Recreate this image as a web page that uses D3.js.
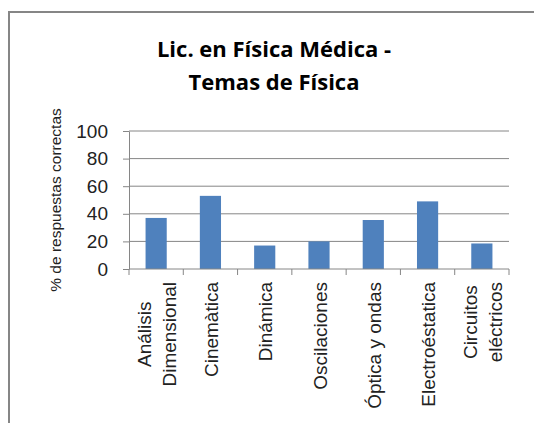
<!DOCTYPE html>
<html>
<head>
<meta charset="utf-8">
<script src="https://cdn.jsdelivr.net/npm/d3@7"></script>
<style>
  body { margin: 0; background: #fff; }
  svg { display: block; }
</style>
</head>
<body>
<script>
var temas = [
    ["Análisis", "Dimensional"],
    ["Cinemàtica"],
    ["Dinámica"],
    ["Oscilaciones"],
    ["Óptica y ondas"],
    ["Electroéstatica"],
    ["Circuitos", "eléctricos"]
];
var correctas = [37, 53, 17, 20, 35.5, 49, 18.5];
var yTicks = [0, 20, 40, 60, 80, 100];
var titulo = ["Lic. en Física Médica -", "Temas de Física"];
var yTitulo = "% de respuestas correctas";

var width = 534, height = 423;
var gris = "#868686";
var fuente = "'Liberation Sans', Arial, sans-serif";

var svg = d3.select("body").append("svg")
    .attr("width", width)
    .attr("height", height);

// marco del grafico (solo se ven arriba y a la izquierda)
svg.append("rect")
    .attr("x", 9).attr("y", 12)
    .attr("width", 540).attr("height", 430)
    .attr("fill", "none")
    .attr("stroke", gris)
    .attr("stroke-width", 2);

svg.append("g").selectAll("text")
    .data(titulo)
    .enter().append("text")
    .attr("x", 274)
    .attr("y", function (d, i) { return 57 + i * 33; })
    .attr("text-anchor", "middle")
    .style("font-family", "'Open Sans', Lato, sans-serif")
    .style("font-weight", "bold")
    .style("font-size", "22px")
    .text(function (d) { return d; });

var ids = d3.range(temas.length);
var x = d3.scaleBand()
    .domain(ids)
    .range([129, 509])
    .paddingInner(0.61)
    .paddingOuter(0.305);

var y = d3.scaleLinear()
    .domain([0, 100])
    .range([269, 131]);

// lineas de division
svg.append("g").selectAll("line")
    .data(yTicks.filter(function (d) { return d > 0; }))
    .enter().append("line")
    .attr("x1", 129).attr("x2", 509)
    .attr("y1", function (d) { return y(d); })
    .attr("y2", function (d) { return y(d); })
    .attr("stroke", gris)
    .attr("stroke-width", 1);

var yAxis = svg.append("g")
    .attr("transform", "translate(129,0)")
    .call(d3.axisLeft(y).tickValues(yTicks).tickSize(6).tickSizeOuter(0).tickPadding(15));
yAxis.selectAll("path, line").attr("stroke", gris);
yAxis.selectAll("text")
    .style("font-family", fuente)
    .style("font-size", "19px")
    .attr("fill", "#222");

// barras
svg.append("g").selectAll("rect")
    .data(correctas)
    .enter().append("rect")
    .attr("x", function (d, i) { return x(i); })
    .attr("y", function (d) { return y(d); })
    .attr("width", x.bandwidth())
    .attr("height", function (d) { return y(0) - y(d); })
    .attr("fill", "#4F81BD");

// eje x con marcas entre categorias
var paso = x.step();
svg.append("line")
    .attr("x1", 129).attr("x2", 509)
    .attr("y1", y(0)).attr("y2", y(0))
    .attr("stroke", gris);
svg.append("g").selectAll("line")
    .data(d3.range(temas.length + 1))
    .enter().append("line")
    .attr("x1", function (d) { return 129 + d * paso; })
    .attr("x2", function (d) { return 129 + d * paso; })
    .attr("y1", y(0)).attr("y2", y(0) + 6)
    .attr("stroke", gris);

var etiquetas = svg.append("g").selectAll("g")
    .data(temas)
    .enter().append("g")
    .attr("transform", function (d, i) {
        return "translate(" + (x(i) + x.bandwidth() / 2) + ",282) rotate(-90)";
    });

etiquetas.each(function (d) {
    var g = d3.select(this);
    var n = d.length;
    var lh = 25;
    var t = g.append("text")
        .attr("text-anchor", "middle")
        .style("font-family", fuente)
        .style("font-size", "19px")
        .attr("fill", "#222");
    t.selectAll("tspan")
        .data(d)
        .enter().append("tspan")
        .text(function (s) { return s; });
    // centrar lineas respecto a la mas larga
    var largo = d3.max(t.selectAll("tspan").nodes(), function (nd) { return nd.getComputedTextLength(); });
    t.selectAll("tspan")
        .attr("x", -largo / 2)
        .attr("y", function (s, j) { return 7.5 + (j - (n - 1) / 2) * lh; });
});

svg.append("text")
    .attr("transform", "translate(61,200) rotate(-90)")
    .attr("text-anchor", "middle")
    .style("font-family", fuente)
    .style("font-size", "15.5px")
    .attr("fill", "#222")
    .text(yTitulo);
</script>
</body>
</html>
